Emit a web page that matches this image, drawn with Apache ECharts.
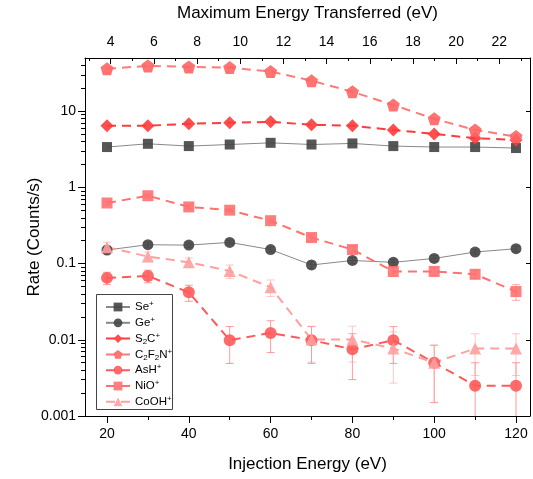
<!DOCTYPE html>
<html>
<head>
<meta charset="utf-8">
<script src="https://cdn.jsdelivr.net/npm/echarts@6/dist/echarts.min.js"></script>
<style>
  html, body { margin: 0; padding: 0; background: #fff; }
  #main { width: 533px; height: 479px; }
</style>
</head>
<body>
<div id="main"></div>
<script>
// injection energy (eV)
var xInj = [20, 30, 40, 50, 60, 70, 80, 90, 100, 110, 120];

// rates (counts/s) and errors
var seRate = [3.39, 3.74, 3.49, 3.66, 3.85, 3.66, 3.78, 3.49, 3.39, 3.39, 3.29];
var geRate = [0.151, 0.177, 0.175, 0.190, 0.153, 0.096, 0.110, 0.104, 0.117, 0.142, 0.157];
var geErr = [0.012, 0.013, 0.012, 0.013, 0.012, 0.01, 0.01, 0.01, 0.01, 0.011, 0.012];
var s2cRate = [6.45, 6.45, 6.85, 7.06, 7.27, 6.65, 6.45, 5.68, 5.04, 4.43, 4.21];
var c2f2nRate = [36.0, 39.4, 38.2, 37.4, 33.2, 25.2, 18.0, 12.1, 7.95, 5.68, 4.65];
var ashRate = [0.065, 0.069, 0.042, 0.0099, 0.0123, 0.0099, 0.0075, 0.0099, 0.005, 0.0025, 0.0025];
var ashErr = [0.012, 0.013, 0.01, 0.005, 0.0055, 0.005, 0.0045, 0.005, 0.0035, 0.0025, 0.0025];
var nioRate = [0.625, 0.778, 0.555, 0.503, 0.366, 0.220, 0.153, 0.079, 0.079, 0.0725, 0.043];
var nioErr = [0.03, 0.035, 0.03, 0.028, 0.025, 0.02, 0.015, 0.011, 0.01, 0.009, 0.01];
var coohRate = [0.164, 0.124, 0.104, 0.080, 0.049, 0.0101, 0.0101, 0.0077, 0.005, 0.0077, 0.0077];
var coohErr = [0.027, 0.018, 0.015, 0.016, 0.012, 0.005, 0.005, 0.005, 0.0035, 0.0043, 0.0043];

// tick labels
var bottomTicks = [20, 40, 60, 80, 100, 120];
var bottomMinor = [30, 50, 70, 90, 110];
var topTicks = [4, 6, 8, 10, 12, 14, 16, 18, 20, 22];
var topMinor = [3, 5, 7, 9, 11, 13, 15, 17, 19, 21, 23];
var yTicks = [0.001, 0.01, 0.1, 1, 10];
var yTickLabels = ['0.001', '0.01', '0.1', '1', '10'];

var yMinor = [];
for (var k = -3; k <= 1; k++) {
    for (var m = 2; m <= 9; m++) {
        var v = m * Math.pow(10, k);
        if (v < 50) yMinor.push(v);
    }
}

var FONT = '"Liberation Sans", Arial, sans-serif';
var pentagon = 'path://M0,-10 L9.51,-3.09 L5.88,8.09 L-5.88,8.09 L-9.51,-3.09 Z';

function pairs(vals) {
    return xInj.map(function (x, i) { return [x, vals[i]]; });
}

function errSeries(name, vals, errs, color) {
    return {
        name: name + '_err',
        type: 'custom',
        xAxisIndex: 0,
        yAxisIndex: 0,
        silent: true,
        z: 1,
        data: xInj.map(function (x, i) { return [x, vals[i] - errs[i], vals[i] + errs[i]]; }),
        renderItem: function (params, api) {
            var cs = params.coordSys;
            var lo = Math.max(api.value(1), 1e-6);
            var top = api.coord([api.value(0), api.value(2)]);
            var bot = api.coord([api.value(0), lo]);
            var yb = Math.min(bot[1], cs.y + cs.height);
            var x = top[0];
            var st = { stroke: color, lineWidth: 1, opacity: 0.55 };
            var kids = [
                { type: 'line', shape: { x1: x, y1: top[1], x2: x, y2: yb }, style: st },
                { type: 'line', shape: { x1: x - 4, y1: top[1], x2: x + 4, y2: top[1] }, style: st }
            ];
            if (bot[1] <= cs.y + cs.height) {
                kids.push({ type: 'line', shape: { x1: x - 4, y1: yb, x2: x + 4, y2: yb }, style: st });
            }
            return { type: 'group', children: kids };
        }
    };
}

function lineSeries(name, vals, color, symbol, size, dashed, lineColor) {
    return {
        name: name,
        type: 'line',
        xAxisIndex: 0,
        yAxisIndex: 0,
        data: pairs(vals),
        symbol: symbol,
        symbolSize: size,
        showSymbol: true,
        z: 3,
        itemStyle: { color: color, opacity: 0.9 },
        lineStyle: dashed
            ? { color: lineColor || color, width: 2, type: [9, 6] }
            : { color: lineColor || '#888', width: 1 }
    };
}

var chart = echarts.init(document.getElementById('main'));

var nameText = { color: '#000', fontFamily: FONT, fontSize: 17 };

chart.setOption({
    animation: false,
    grid: { left: 85, right: 3, top: 53, bottom: 63, containLabel: false },
    graphic: [{
        type: 'rect',
        shape: { x: 96.5, y: 294.5, width: 76, height: 115 },
        style: { fill: '#fff', stroke: '#444', lineWidth: 1 },
        z: 50
    }],
    legend: {
        orient: 'vertical',
        left: 97,
        top: 295,
        padding: [5, 4, 5, 8],
        itemGap: 1.8,
        itemWidth: 24,
        itemHeight: 11,
        z: 60,
        data: ['Se+', 'Ge+', 'S2C+', 'C2F2N+', 'AsH+', 'NiO+', 'CoOH+'],
        formatter: function (name) {
            return name.replace(/(\d)/g, '{sub|$1}').replace('+', '{sup|+}');
        },
        textStyle: {
            fontFamily: FONT,
            fontSize: 11.5,
            color: '#000',
            lineHeight: 14,
            rich: {
                sub: { fontSize: 8, fontFamily: FONT, verticalAlign: 'bottom', lineHeight: 14 },
                sup: { fontSize: 8, fontFamily: FONT, verticalAlign: 'top', lineHeight: 14 }
            }
        }
    },
    xAxis: [
        {
            type: 'value', position: 'bottom', min: 14.62, max: 123.42,
            name: 'Injection Energy (eV)', nameLocation: 'middle', nameGap: 40,
            nameTextStyle: nameText,
            axisLine: { show: true, lineStyle: { color: '#000', width: 1 } },
            axisTick: { show: true, inside: false, length: 7, customValues: bottomTicks, lineStyle: { color: '#000' } },
            axisLabel: { margin: 11, customValues: bottomTicks, color: '#000', fontFamily: FONT, fontSize: 14 },
            splitLine: { show: false }
        },
        {
            type: 'value', position: 'top', min: 2.81, max: 23.42,
            name: 'Maximum Energy Transferred (eV)', nameLocation: 'middle', nameGap: 36,
            nameTextStyle: nameText,
            axisLine: { show: true, lineStyle: { color: '#000', width: 1 } },
            axisTick: { show: true, inside: true, length: 6, customValues: topTicks, lineStyle: { color: '#000' } },
            axisLabel: { margin: 9, customValues: topTicks, color: '#000', fontFamily: FONT, fontSize: 14 },
            splitLine: { show: false }
        },
        {
            type: 'value', position: 'bottom', min: 14.62, max: 123.42,
            axisLine: { show: false },
            axisTick: { show: true, inside: false, length: 4, customValues: bottomMinor, lineStyle: { color: '#000' } },
            axisLabel: { show: false },
            splitLine: { show: false }
        },
        {
            type: 'value', position: 'top', min: 2.81, max: 23.42,
            axisLine: { show: false },
            axisTick: { show: true, inside: true, length: 3, customValues: topMinor, lineStyle: { color: '#000' } },
            axisLabel: { show: false },
            splitLine: { show: false }
        }
    ],
    yAxis: [
        {
            type: 'log', logBase: 10, position: 'left', min: 0.001, max: 50,
            name: 'Rate (Counts/s)', nameLocation: 'middle', nameGap: 42,
            nameMoveOverlap: false,
            nameTextStyle: nameText,
            axisLine: { show: true, lineStyle: { color: '#000', width: 1 } },
            axisTick: { show: true, inside: false, length: 7, customValues: yTicks, lineStyle: { color: '#000' } },
            axisLabel: {
                margin: 9, customValues: yTicks, color: '#000', fontFamily: FONT, fontSize: 14,
                formatter: function (v) {
                    for (var i = 0; i < yTicks.length; i++) {
                        if (Math.abs(Math.log10(v) - Math.log10(yTicks[i])) < 1e-6) return yTickLabels[i];
                    }
                    return '';
                }
            },
            splitLine: { show: false }
        },
        {
            type: 'log', logBase: 10, position: 'right', min: 0.001, max: 50,
            axisLine: { show: true, lineStyle: { color: '#000', width: 1 } },
            axisTick: { show: true, inside: true, length: 4, customValues: yTicks, lineStyle: { color: '#000' } },
            axisLabel: { show: false },
            splitLine: { show: false }
        },
        {
            type: 'log', logBase: 10, position: 'left', min: 0.001, max: 50,
            axisLine: { show: false },
            axisTick: { show: true, inside: false, length: 4, customValues: yMinor, lineStyle: { color: '#000' } },
            axisLabel: { show: false },
            splitLine: { show: false }
        }
    ],
    series: [
        errSeries('Ge+', geRate, geErr, '#333'),
        errSeries('AsH+', ashRate, ashErr, '#ff4a4a'),
        errSeries('NiO+', nioRate, nioErr, '#ff6a6a'),
        errSeries('CoOH+', coohRate, coohErr, '#ff9a9a'),
        lineSeries('Se+', seRate, '#444', 'rect', 10, false, '#888'),
        lineSeries('Ge+', geRate, '#444', 'circle', 11, false, '#888'),
        lineSeries('S2C+', s2cRate, '#ff3b3b', 'diamond', 13, true),
        lineSeries('C2F2N+', c2f2nRate, '#ff6464', pentagon, 13, true, '#ff7a7a'),
        lineSeries('AsH+', ashRate, '#ff5a5a', 'circle', 12, true),
        lineSeries('NiO+', nioRate, '#ff7070', 'rect', 11, true),
        lineSeries('CoOH+', coohRate, '#ffa0a0', 'triangle', 12, true)
    ]
});
</script>
</body>
</html>
